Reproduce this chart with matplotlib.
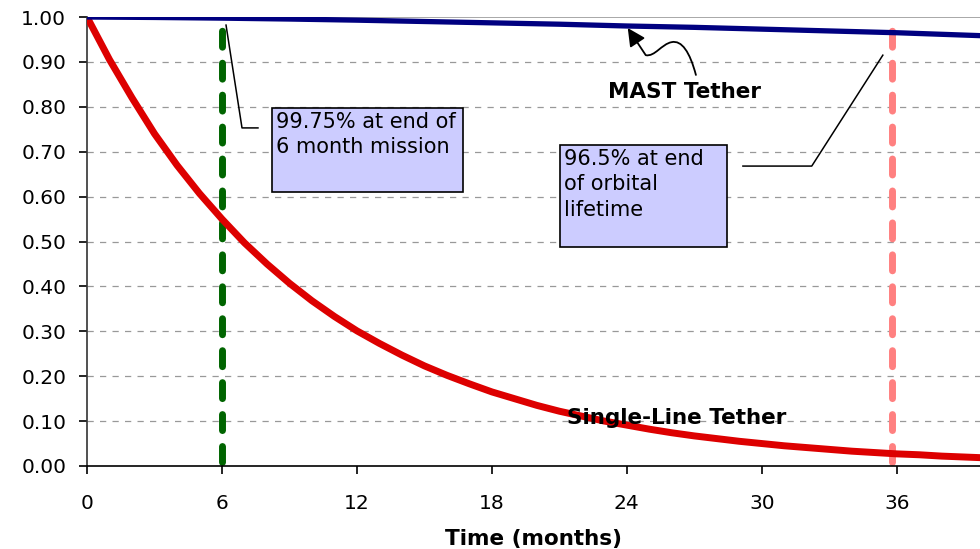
import numpy as np
import matplotlib.pyplot as plt
from matplotlib.patches import Rectangle, FancyArrowPatch
from matplotlib.path import Path

# --- DATA ---
months = list(range(0, 41))
single_line = [1.00, 0.905, 0.82, 0.74, 0.67, 0.607, 0.55, 0.497, 0.45, 0.407,
               0.368, 0.333, 0.301, 0.273, 0.247, 0.223, 0.202, 0.183, 0.165, 0.150,
               0.135, 0.122, 0.111, 0.100, 0.091, 0.082, 0.074, 0.067, 0.061, 0.055,
               0.050, 0.045, 0.041, 0.037, 0.033, 0.030, 0.027, 0.025, 0.022, 0.020,
               0.018]
mast_months = [0, 3, 6, 9, 12, 15, 18, 21, 24, 27, 30, 33, 36, 40]
mast = [1.000, 0.999, 0.9975, 0.9955, 0.993, 0.990, 0.987, 0.984, 0.980, 0.977,
        0.973, 0.969, 0.965, 0.958]
mission_end = 6.0
orbital_end = 35.8
xticks = [0, 6, 12, 18, 24, 30, 36]
yticks = np.round(np.arange(0, 1.01, 0.1), 2)

plt.rcParams['font.family'] = 'DejaVu Sans'

fig = plt.figure(figsize=(9.8, 5.49), dpi=100)
ax = fig.add_axes([0.0888, 0.1512, 0.9112, 0.8178])

# grid
for y in yticks[1:-1]:
    ax.axhline(y, color='#999999', lw=0.9, ls=(0, (5, 5)), zorder=0)
ax.axhline(1.0, color='#999999', lw=1.2, zorder=0)

# vertical markers
ax.plot([mission_end, mission_end], [0.01, 0.985], color='#006400', lw=5,
        dashes=(2.3, 2.3), dash_capstyle='round', zorder=2)
ax.plot([orbital_end, orbital_end], [0.01, 0.975], color='#FF8080', lw=5,
        dashes=(2.3, 2.3), dash_capstyle='round', zorder=2)

# curves
ax.plot(months, single_line, color='#DD0000', lw=5, zorder=3)
ax.plot(mast_months, mast, color='#000080', lw=3.8, zorder=3)

ax.set_xlim(0, 39.7)
ax.set_ylim(0, 1.0)
ax.set_xticks(xticks)
ax.set_yticks(yticks)
ax.set_yticklabels([f"{v:.2f}" for v in yticks])
ax.tick_params(axis='both', direction='out', length=6, width=1.2, labelsize=14.5,
               colors='black')
ax.tick_params(axis='y', pad=9)
ax.tick_params(axis='x', pad=14)
for s in ('top', 'right'):
    ax.spines[s].set_visible(False)
ax.spines['left'].set_color('#333333')
ax.spines['bottom'].set_color('black')
ax.spines['left'].set_linewidth(1.2)
ax.spines['bottom'].set_linewidth(1.2)
ax.set_xlabel('Time (months)', fontsize=15.5, fontweight='bold', labelpad=12)

# annotation boxes
ax.add_patch(Rectangle((8.22, 0.610), 8.49, 0.187, facecolor='#CCCCFF',
                       edgecolor='black', lw=1.2, zorder=4))
ax.text(8.38, 0.789, '99.75% at end of\n6 month mission', fontsize=15,
        va='top', ha='left', linespacing=1.35, zorder=5)
ax.plot([7.6, 6.89, 6.18], [0.753, 0.753, 0.982], color='black', lw=1.1, zorder=4)

ax.add_patch(Rectangle((21.02, 0.488), 7.42, 0.227, facecolor='#CCCCFF',
                       edgecolor='black', lw=1.2, zorder=4))
ax.text(21.2, 0.707, '96.5% at end\nof orbital\nlifetime', fontsize=15,
        va='top', ha='left', linespacing=1.35, zorder=5)
ax.plot([29.16, 32.22, 35.38], [0.668, 0.668, 0.915], color='black', lw=1.1, zorder=4)

# series labels
ax.text(26.58, 0.833, 'MAST Tether', fontsize=15.5, fontweight='bold',
        ha='center', va='center', zorder=5)
ax.text(21.33, 0.107, 'Single-Line Tether', fontsize=15.5, fontweight='bold',
        ha='left', va='center', zorder=5)

# wavy arrow to the MAST curve
verts = [(27.07, 0.871), (26.80, 0.922), (26.44, 0.949), (25.99, 0.944),
         (25.55, 0.940), (25.24, 0.911), (24.84, 0.915), (24.04, 0.9755)]
codes = [Path.MOVETO, Path.CURVE4, Path.CURVE4, Path.CURVE4,
         Path.CURVE4, Path.CURVE4, Path.CURVE4, Path.LINETO]
arrow = FancyArrowPatch(path=Path(verts, codes),
                        arrowstyle='-|>,head_length=0.6,head_width=0.3',
                        mutation_scale=18, color='black', lw=1.3, zorder=5)
ax.add_patch(arrow)

fig.savefig('out.png', dpi=100)
